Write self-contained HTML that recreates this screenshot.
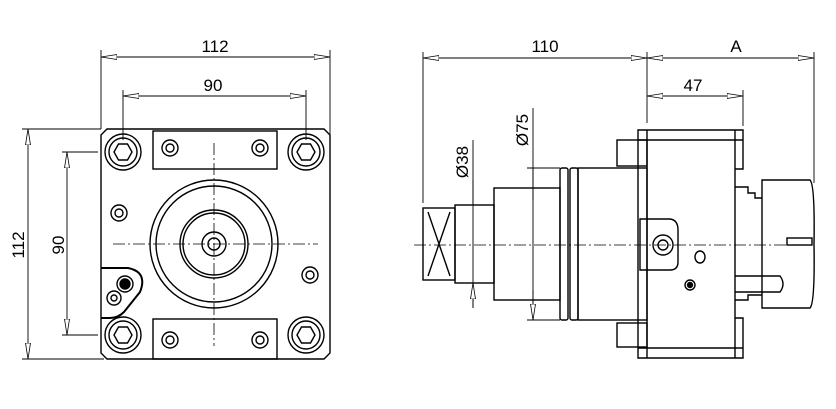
<!DOCTYPE html>
<html><head><style>body{margin:0;background:#fff}svg{display:block}text{font-family:"Liberation Sans",sans-serif;font-size:17px;fill:#000}</style></head><body>
<svg width="836" height="409" viewBox="0 0 836 409" xmlns="http://www.w3.org/2000/svg">
<defs>
<marker id="a" viewBox="0 0 16 6" refX="16" refY="3" markerWidth="16" markerHeight="6" orient="auto-start-reverse" markerUnits="userSpaceOnUse"><path d="M0,0.5 L16,3 L0,5.5 Z" fill="#fff" stroke="#000" stroke-width="0.8"/></marker>
<g id="b" fill="none" stroke="#000" stroke-width="1.4"><circle r="18"/><circle r="14"/><path d="M-9,0 L-4.5,-8 L4.5,-8 L9,0 L4.5,8 L-4.5,8 Z"/></g>
</defs>
<g fill="none" stroke="#000" stroke-width="0.9">
<line x1="101" y1="50" x2="101" y2="129"/><line x1="330" y1="50" x2="330" y2="138"/>
<line x1="101" y1="57" x2="330" y2="57" marker-start="url(#a)" marker-end="url(#a)"/>
<line x1="123" y1="90" x2="123" y2="140"/><line x1="306" y1="90" x2="306" y2="140"/>
<line x1="123" y1="96" x2="306" y2="96" marker-start="url(#a)" marker-end="url(#a)"/>
<line x1="22" y1="129" x2="101" y2="129"/><line x1="22" y1="359" x2="104" y2="359"/>
<line x1="28" y1="129" x2="28" y2="359" marker-start="url(#a)" marker-end="url(#a)"/>
<line x1="62" y1="152" x2="98" y2="152"/><line x1="62" y1="335" x2="98" y2="335"/>
<line x1="67" y1="152" x2="67" y2="335" marker-start="url(#a)" marker-end="url(#a)"/>
</g>
<text x="215" y="52" text-anchor="middle">112</text>
<text x="213" y="91" text-anchor="middle">90</text>
<text transform="translate(24,245) rotate(-90)" text-anchor="middle">112</text>
<text transform="translate(64,245) rotate(-90)" text-anchor="middle">90</text>
<g fill="none" stroke="#000" stroke-width="1.4">
<path d="M107,129 L324,129 L330,135 L330,353 L324,359 L107,359 L101,353 L101,135 Z"/>
<rect x="153" y="131" width="124" height="38"/><rect x="153" y="319" width="124" height="40"/>
<use href="#b" x="123" y="152"/><use href="#b" x="306" y="152"/><use href="#b" x="123" y="335"/><use href="#b" x="306" y="335"/>
<circle cx="170" cy="148" r="8"/><circle cx="170" cy="148" r="4"/><circle cx="260" cy="148" r="8"/><circle cx="260" cy="148" r="4"/>
<circle cx="170" cy="340" r="8"/><circle cx="170" cy="340" r="4"/><circle cx="260" cy="340" r="8"/><circle cx="260" cy="340" r="4"/>
<circle cx="119" cy="213" r="8"/><circle cx="119" cy="213" r="4"/><circle cx="310" cy="275" r="8"/><circle cx="310" cy="275" r="4"/>
<circle cx="214" cy="244" r="64"/><circle cx="214" cy="244" r="58"/><circle cx="214" cy="244" r="34"/><circle cx="214" cy="244" r="31"/><circle cx="214" cy="244" r="12"/><circle cx="214" cy="244" r="6"/>
<path d="M101,268 L128,268 Q148,272 140,292 L124,312 Q118,318 110,318 L101,318" stroke-width="2"/>
<circle cx="125" cy="284" r="8"/><circle cx="125" cy="284" r="5" fill="#000"/><circle cx="114" cy="298" r="7"/><circle cx="114" cy="298" r="3"/>
</g>
<g stroke="#000" stroke-width="0.8" stroke-dasharray="12,3,2,3"><line x1="113" y1="244" x2="318" y2="244"/><line x1="214" y1="143" x2="214" y2="346"/><line x1="414" y1="245" x2="812" y2="245"/></g>
<g fill="none" stroke="#000" stroke-width="0.9">
<line x1="423" y1="52" x2="423" y2="203"/><line x1="647" y1="52" x2="647" y2="123"/><line x1="743" y1="90" x2="743" y2="126"/><line x1="814" y1="52" x2="814" y2="183"/>
<line x1="423" y1="58" x2="647" y2="58" marker-start="url(#a)" marker-end="url(#a)"/>
<line x1="647" y1="58" x2="814" y2="58" marker-start="url(#a)" marker-end="url(#a)"/>
<line x1="647" y1="96" x2="743" y2="96" marker-start="url(#a)" marker-end="url(#a)"/>
<line x1="533" y1="108" x2="533" y2="320"/>
<path d="M533,200 L533,168 M533,290 L533,320" marker-end="url(#a)"/>
<path d="M527,168 L560,168 M527,320 L560,320"/>
<line x1="473" y1="140" x2="473" y2="308"/>
<path d="M473,180 L473,205 M473,308 L473,283" marker-end="url(#a)"/>
</g>
<text x="545" y="52" text-anchor="middle">110</text>
<text x="736" y="52" text-anchor="middle">A</text>
<text x="693" y="91" text-anchor="middle">47</text>
<text transform="translate(528,130) rotate(-90)" text-anchor="middle">Ø75</text>
<text transform="translate(468,162) rotate(-90)" text-anchor="middle">Ø38</text>
<g fill="none" stroke="#000" stroke-width="1.4">
<rect x="423" y="208" width="32" height="72"/><path d="M428,212 L450,276 M450,212 L428,276"/>
<rect x="455" y="205" width="39" height="78"/>
<rect x="494" y="188" width="66" height="112"/>
<rect x="560" y="168" width="8" height="152" rx="2"/><rect x="570" y="168" width="8" height="152" rx="2"/>
<rect x="578" y="168" width="69" height="152"/>
<rect x="617" y="140" width="30" height="26"/><rect x="617" y="323" width="30" height="24"/>
<path d="M735,169 L743,169 L743,130 L638,130 L638,358 L743,358 L743,318 L735,318"/>
<line x1="647" y1="130" x2="647" y2="358"/><line x1="735" y1="130" x2="735" y2="358"/>
<line x1="638" y1="140" x2="743" y2="140"/><line x1="638" y1="348" x2="743" y2="348"/>
<path d="M735,187 L748,187 L748,193 L755,193 L755,198 L762,198 M735,300 L748,300 L748,295 L762,295"/>
<path d="M762,180 L810,180 Q815,185 814,244 Q815,303 810,308 L762,308 Z"/>
<rect x="787" y="238" width="25" height="7"/>
<path d="M735,276 L780,276 Q786,284 780,292 L735,292"/>
<path d="M640,219 L670,219 Q678,220 678,230 L678,262 Q678,270 670,270 L640,270 Z"/>
<circle cx="663" cy="245" r="10"/><circle cx="663" cy="245" r="5"/>
<ellipse cx="700" cy="257" rx="5" ry="6"/><circle cx="690" cy="285" r="5"/><circle cx="690" cy="285" r="2.5" fill="#000"/>
</g>
</svg>
</body></html>
